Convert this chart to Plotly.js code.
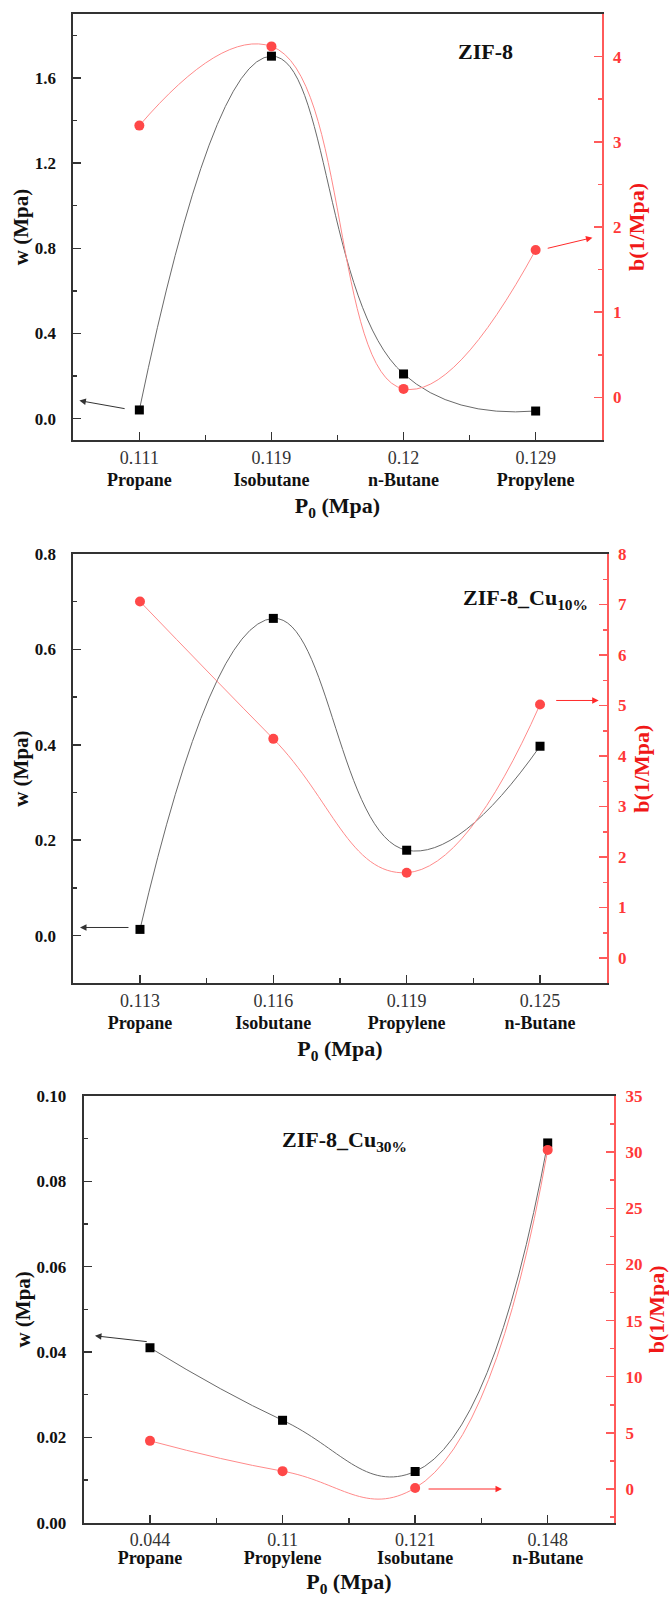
<!DOCTYPE html>
<html>
<head>
<meta charset="utf-8">
<script src="https://cdn.plot.ly/plotly-3.0.1.min.js"></script>
<style>html,body{margin:0;padding:0;background:#fff}</style>
</head>
<body>
<div id="chart" style="width:669px;height:1597px"></div>
<script>
// ---- Panel 1: ZIF-8 ----
const p0_zif8 = ['0.111', '0.119', '0.12', '0.129'];
const gas_zif8 = ['Propane', 'Isobutane', 'n-Butane', 'Propylene'];
const w_zif8 = [0.041, 1.702, 0.21, 0.036];
const b_zif8 = [3.19, 4.12, 0.10, 1.73];

// ---- Panel 2: ZIF-8_Cu10% ----
const p0_cu10 = ['0.113', '0.116', '0.119', '0.125'];
const gas_cu10 = ['Propane', 'Isobutane', 'Propylene', 'n-Butane'];
const w_cu10 = [0.013, 0.665, 0.179, 0.397];
const b_cu10 = [7.06, 4.34, 1.69, 5.02];

// ---- Panel 3: ZIF-8_Cu30% ----
const p0_cu30 = ['0.044', '0.11', '0.121', '0.148'];
const gas_cu30 = ['Propane', 'Propylene', 'Isobutane', 'n-Butane'];
const w_cu30 = [0.041, 0.024, 0.012, 0.089];
const b_cu30 = [4.29, 1.59, 0.09, 30.2];

const FONT = 'Liberation Serif';
const RED_LINE = '#ff8a8a';
const RED_MARK = '#ff4848';
const RED_AXIS = '#ff5a5a';
const RED_TEXT = '#ff3838';

const panels = [
  { p0: p0_zif8, gas: gas_zif8, w: w_zif8, b: b_zif8, label: '<b>ZIF-8</b>',
    xdom: [73.3, 601.7], ydom: [14, 440], nameOff: 27,
    wRange: [-0.1, 1.9], wDtick: 0.4, wMinor: 0.2, wFmt: '.1f',
    bRange: [-0.5, 4.5], bDtick: 1, bMinor: 0.5,
    labelPos: [2.40, 1.724],
    wArrow: { tail: [-0.10, 0.046], head: [-0.454, 0.085] },
    bArrow: { tail: [3.08, 1.746], head: [3.43, 1.875] } },
  { p0: p0_cu10, gas: gas_cu10, w: w_cu10, b: b_cu10, label: '<b>ZIF-8_Cu<sub>10%</sub></b>',
    xdom: [73.3, 606.7], ydom: [554, 983.3], nameOff: 27,
    wRange: [-0.1, 0.8], wDtick: 0.2, wMinor: 0.1, wFmt: '.1f',
    bRange: [-0.5, 8], bDtick: 1, bMinor: 0.5,
    labelPos: [2.41, 0.706],
    wArrow: { tail: [-0.075, 0.017], head: [-0.45, 0.017] },
    bArrow: { tail: [3.11, 5.10], head: [3.44, 5.10] } },
  { p0: p0_cu30, gas: gas_cu30, w: w_cu30, b: b_cu30, label: '<b>ZIF-8_Cu<sub>30%</sub></b>',
    xdom: [83.7, 614], ydom: [1096, 1522.7], nameOff: 22,
    wRange: [0, 0.1], wDtick: 0.02, wMinor: 0.01, wFmt: '.2f',
    bRange: [-3, 35], bDtick: 5, bMinor: 2.5,
    labelPos: [0.98, 0.0895],
    wArrow: { tail: [-0.013, 0.0424], head: [-0.415, 0.0438] },
    bArrow: { tail: [2.09, 0], head: [2.655, 0] } }
];

const W = 669, H = 1597;
const data = [];
const layout = {
  width: W, height: H,
  margin: { l: 0, r: 0, t: 0, b: 0 },
  paper_bgcolor: '#fff', plot_bgcolor: 'rgba(0,0,0,0)',
  showlegend: false,
  font: { family: FONT, color: '#111' },
  annotations: []
};

panels.forEach((p, k) => {
  const xi = 2 * k + 1, yi = 2 * k + 1;
  const xName = xi === 1 ? 'x' : 'x' + xi;
  const xName2 = 'x' + (xi + 1);
  const yName = yi === 1 ? 'y' : 'y' + yi;
  const yName2 = 'y' + (yi + 1);
  const xKey = xi === 1 ? 'xaxis' : 'xaxis' + xi;
  const xKey2 = 'xaxis' + (xi + 1);
  const yKey = yi === 1 ? 'yaxis' : 'yaxis' + yi;
  const yKey2 = 'yaxis' + (yi + 1);
  const idx = p.gas.map((_, i) => i);
  const half = p.gas.slice(1).map((_, i) => i + 0.5);

  data.push({
    x: idx, y: p.w, xaxis: xName, yaxis: yName, type: 'scatter', mode: 'lines+markers',
    line: { color: '#6a6a6a', width: 1, shape: 'spline', smoothing: 1.3 },
    marker: { symbol: 'square', size: 9, color: '#000' }, cliponaxis: false
  });
  data.push({
    x: idx, y: p.b, xaxis: xName, yaxis: yName2, type: 'scatter', mode: 'lines+markers',
    line: { color: RED_LINE, width: 1, shape: 'spline', smoothing: 1.3 },
    marker: { symbol: 'circle', size: 10, color: RED_MARK }, cliponaxis: false
  });
  // carrier for the gas-name axis (draws nothing visible)
  data.push({
    x: idx, y: p.w, xaxis: xName2, yaxis: yName, type: 'scatter', mode: 'markers',
    marker: { opacity: 0, size: 1 }, hoverinfo: 'skip'
  });

  const xdom = [p.xdom[0] / W, p.xdom[1] / W];
  const ydom = [1 - p.ydom[1] / H, 1 - p.ydom[0] / H];

  layout[xKey] = {
    domain: xdom, anchor: yName, range: [-0.5, p.gas.length - 0.5],
    tickmode: 'array', tickvals: idx, ticktext: p.p0,
    ticks: 'inside', ticklen: 8, tickwidth: 1.5, tickcolor: '#333',
    minor: { tickmode: 'array', tickvals: half, ticks: 'inside', ticklen: 5, tickwidth: 1.5, tickcolor: '#333' },
    showline: true, mirror: true, linecolor: '#333', linewidth: 2,
    showgrid: false, zeroline: false,
    tickfont: { family: FONT, size: 18, color: '#333' },
    title: { text: 'P<sub>0</sub> (Mpa)', font: { family: FONT, size: 22, weight: 'bold', color: '#111' }, standoff: 31 }
  };
  layout[xKey2] = {
    overlaying: xName, anchor: yName, side: 'bottom', range: [-0.5, p.gas.length - 0.5],
    tickmode: 'array', tickvals: idx, ticktext: p.gas,
    ticks: '', showline: false, showgrid: false, zeroline: false,
    tickfont: { family: FONT, size: 18, weight: 'bold', color: '#111' },
    ticklabelstandoff: p.nameOff
  };
  layout[yKey] = {
    domain: ydom, anchor: xName, range: p.wRange,
    tick0: 0, dtick: p.wDtick, tickformat: p.wFmt,
    ticks: 'inside', ticklen: 8, tickwidth: 1.5, tickcolor: '#333',
    minor: { dtick: p.wMinor, ticks: 'inside', ticklen: 4, tickwidth: 1.5, tickcolor: '#333' },
    showline: true, linecolor: '#333', linewidth: 2,
    showgrid: false, zeroline: false,
    tickfont: { family: FONT, size: 17, weight: 'bold', color: '#111' },
    ticklabelstandoff: 12,
    title: { text: 'w (Mpa)', font: { family: FONT, size: 21, weight: 'bold', color: '#111' }, standoff: 0 }
  };
  layout[yKey2] = {
    overlaying: yName, side: 'right', anchor: xName, range: p.bRange,
    tick0: 0, dtick: p.bDtick,
    ticks: 'inside', ticklen: 8, tickwidth: 1.5, tickcolor: RED_AXIS,
    minor: { dtick: p.bMinor, ticks: 'inside', ticklen: 4, tickwidth: 1.5, tickcolor: RED_AXIS },
    showline: true, linecolor: RED_AXIS, linewidth: 2,
    showgrid: false, zeroline: false,
    tickfont: { family: FONT, size: 17, weight: 'bold', color: RED_TEXT },
    ticklabelstandoff: 6,
    title: { text: 'b(1/Mpa)', font: { family: FONT, size: 22, weight: 'bold', color: '#f01818' }, standoff: 8 }
  };

  layout.annotations.push({
    xref: xName, yref: yName, x: p.labelPos[0], y: p.labelPos[1],
    text: p.label, showarrow: false, xanchor: 'left', yanchor: 'middle',
    font: { family: FONT, size: 22, color: '#111' }
  });
  layout.annotations.push({
    xref: xName, yref: yName, axref: xName, ayref: yName,
    x: p.wArrow.head[0], y: p.wArrow.head[1], ax: p.wArrow.tail[0], ay: p.wArrow.tail[1],
    text: '', showarrow: true, arrowhead: 2, arrowsize: 1.3, arrowwidth: 1, arrowcolor: '#333'
  });
  layout.annotations.push({
    xref: xName, yref: yName2, axref: xName, ayref: yName2,
    x: p.bArrow.head[0], y: p.bArrow.head[1], ax: p.bArrow.tail[0], ay: p.bArrow.tail[1],
    text: '', showarrow: true, arrowhead: 2, arrowsize: 1.3, arrowwidth: 1, arrowcolor: '#ff2a2a'
  });
});

Plotly.newPlot('chart', data, layout, { staticPlot: true, displayModeBar: false });
</script>
</body>
</html>
